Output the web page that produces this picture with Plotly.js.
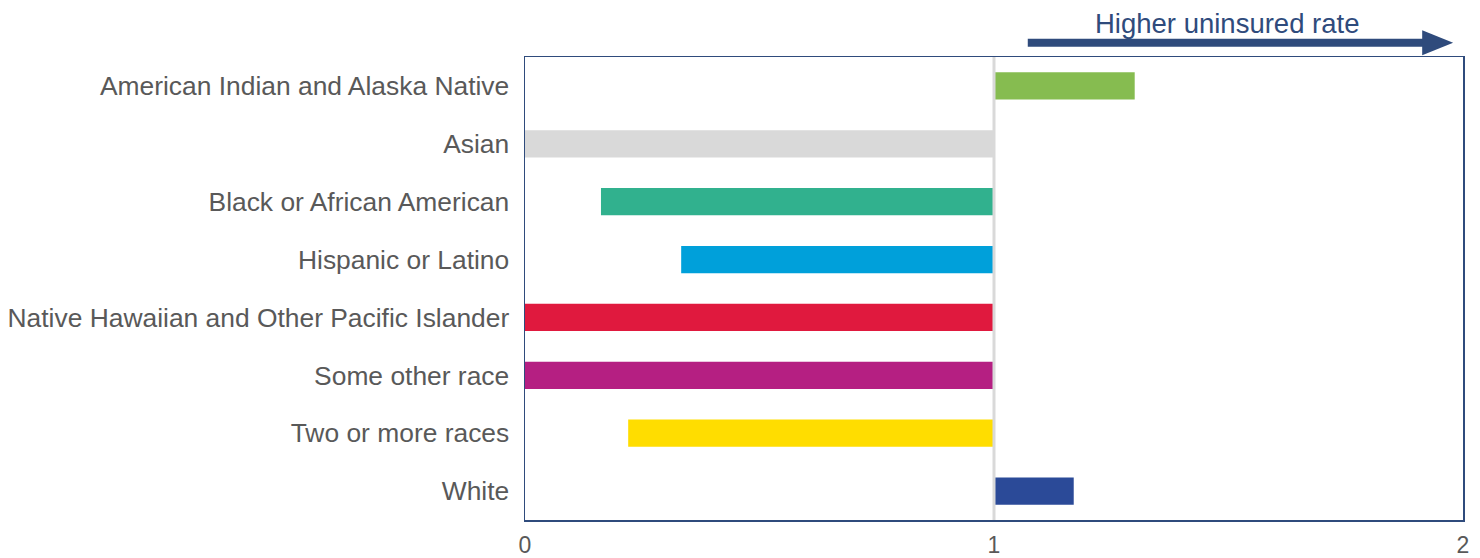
<!DOCTYPE html>
<html>
<head>
<meta charset="utf-8">
<script src="https://cdn.plot.ly/plotly-3.0.1.min.js"></script>
<style>html,body{margin:0;padding:0;background:#fff}#chart{width:1480px;height:558px}</style>
</head>
<body>
<div id="chart"></div>
<script>
const categories = [
  "American Indian and Alaska Native",
  "Asian",
  "Black or African American",
  "Hispanic or Latino",
  "Native Hawaiian and Other Pacific Islander",
  "Some other race",
  "Two or more races",
  "White"
];
const ratios = [1.30, 0.0, 0.162, 0.333, 0.0, 0.0, 0.22, 1.17];
const barColors = ["#86BC50", "#D9D9D9", "#31B18E", "#00A0DA", "#E0193E", "#B51F82", "#FFDD00", "#2B4A98"];
const tickValues = [0, 1, 2];
const tickLabels = ["0", "1", "2"];
const referenceValue = 1;
const arrowLabel = "Higher uninsured rate";

const frameColor = "#2F4B7C";
const fontFam = "Arial, 'Liberation Sans', sans-serif";

const trace = {
  type: "bar",
  orientation: "h",
  y: categories,
  x: ratios.map(v => v - referenceValue),
  base: referenceValue,
  marker: {color: barColors, line: {width: 0}},
  width: 0.47,
  hoverinfo: "skip"
};

const layout = {
  width: 1480,
  height: 558,
  margin: {l: 525, r: 17, t: 57, b: 38},
  paper_bgcolor: "#ffffff",
  plot_bgcolor: "#ffffff",
  showlegend: false,
  font: {family: fontFam, color: "#595959", size: 22},
  xaxis: {
    range: [0, 2],
    tickvals: tickValues,
    ticktext: tickLabels,
    showgrid: false,
    zeroline: false,
    showline: true,
    mirror: true,
    linecolor: frameColor,
    linewidth: 1.5,
    ticks: "",
    ticklabelstandoff: 4,
    tickfont: {size: 23, color: "#595959"},
    fixedrange: true
  },
  yaxis: {
    type: "category",
    categoryorder: "array",
    categoryarray: categories,
    autorange: "reversed",
    showgrid: false,
    zeroline: false,
    showline: true,
    mirror: true,
    linecolor: frameColor,
    linewidth: 1.5,
    ticks: "",
    ticklabelstandoff: 9,
    tickfont: {size: 26.4, color: "#595959"},
    fixedrange: true
  },
  shapes: [
    {type: "line", xref: "x", yref: "paper", x0: referenceValue, x1: referenceValue, y0: 0, y1: 1,
     line: {color: "#D9D9D9", width: 3}, layer: "above"},
    {type: "line", xref: "x", yref: "paper", x0: 1.072, x1: 1.915, y0: 1.031, y1: 1.031,
     line: {color: frameColor, width: 8}},
    {type: "path", xref: "x", yref: "paper",
     path: "M 1.913 1.058 L 1.979 1.031 L 1.913 1.004 Z",
     fillcolor: frameColor, line: {color: frameColor, width: 0}}
  ],
  annotations: [
    {xref: "x", yref: "paper", x: 1.497, y: 1.073, text: arrowLabel, showarrow: false,
     xanchor: "center", yanchor: "middle",
     font: {family: fontFam, size: 27.5, color: "#2F4B7C"}}
  ]
};

Plotly.newPlot("chart", [trace], layout, {staticPlot: true, displayModeBar: false});
</script>
</body>
</html>
